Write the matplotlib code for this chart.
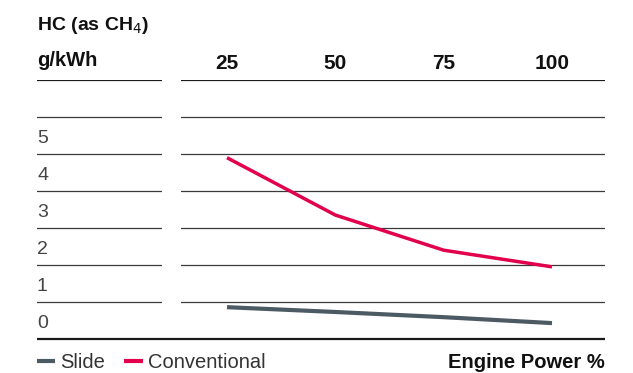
import matplotlib
matplotlib.use("Agg")
import matplotlib.pyplot as plt
from matplotlib.lines import Line2D

plt.rcParams['font.family'] = ['Liberation Sans', 'DejaVu Sans']

# Data
engine_power = [25, 50, 75, 100]
slide = [0.86, 0.73, 0.59, 0.43]
conventional = [4.9, 3.35, 2.4, 1.95]
y_labels = ["0", "1", "2", "3", "4", "5"]
title_line1 = "HC (as CH$_4$)"
title_line2 = "g/kWh"
x_title = "Engine Power %"

W, H = 633, 373
fig = plt.figure(figsize=(W / 100, H / 100), dpi=100)

def fx(px):
    return px / W

def fy(py):
    return 1 - py / H

slide_color = "#4b5a63"
conv_color = "#e2004c"
grid_color = "#3a3a3a"
text_color = "#111111"

# Main plot axes
ax = fig.add_axes([fx(181), fy(339), fx(605) - fx(181), fy(80) - fy(339)])
ax.set_xlim(14.38, 112.23)
ax.set_ylim(0, 7)
ax.axis("off")
for v in range(1, 7):
    ax.axhline(v, color=grid_color, lw=0.9, zorder=1)
ax.axhline(7, color="#1a1a1a", lw=1.6, zorder=1)

ax.plot(engine_power, conventional, color=conv_color, lw=2.5,
        solid_capstyle="butt", solid_joinstyle="round", zorder=3)
ax.plot(engine_power, slide, color=slide_color, lw=3.0,
        solid_capstyle="butt", solid_joinstyle="round", zorder=3)

for xp in engine_power:
    ax.text(xp, 7 + 11 / 37, str(xp), ha="center", va="baseline",
            fontsize=15, fontweight="bold", color=text_color)

# Left label column axes
axl = fig.add_axes([fx(37), fy(339), fx(162) - fx(37), fy(80) - fy(339)])
axl.set_xlim(0, 1)
axl.set_ylim(0, 7)
axl.axis("off")
for v in range(1, 7):
    axl.axhline(v, color=grid_color, lw=0.9, zorder=1)
axl.axhline(7, color="#1a1a1a", lw=1.6, zorder=1)
# bottom line spanning full width
axl.plot([0, (605 - 37) / (162 - 37)], [0, 0], color="#1a1a1a", lw=1.6,
         clip_on=False, solid_capstyle="butt")

for i, lab in enumerate(y_labels):
    axl.text(0, i + 0.3, lab, ha="left", va="baseline", fontsize=14,
             color="#444444")

fig.text(fx(37), fy(30), title_line1, ha="left", va="baseline",
         fontsize=14, fontweight="bold", color=text_color)
fig.text(fx(37), fy(66), title_line2, ha="left", va="baseline",
         fontsize=14.5, fontweight="bold", color=text_color)

# Legend
fig.add_artist(Line2D([fx(37), fx(55)], [fy(361), fy(361)], color=slide_color,
                      lw=3, solid_capstyle="butt"))
fig.text(fx(60), fy(368), "Slide", ha="left", va="baseline", fontsize=14.5,
         color="#333333")
fig.add_artist(Line2D([fx(124), fx(143)], [fy(361), fy(361)], color=conv_color,
                      lw=3, solid_capstyle="butt"))
fig.text(fx(148), fy(368), "Conventional", ha="left", va="baseline", fontsize=14.5,
         color="#333333")
fig.text(fx(605), fy(368), x_title, ha="right", va="baseline", fontsize=14.5,
         fontweight="bold", color=text_color)

fig.savefig("out.png", dpi=100)
